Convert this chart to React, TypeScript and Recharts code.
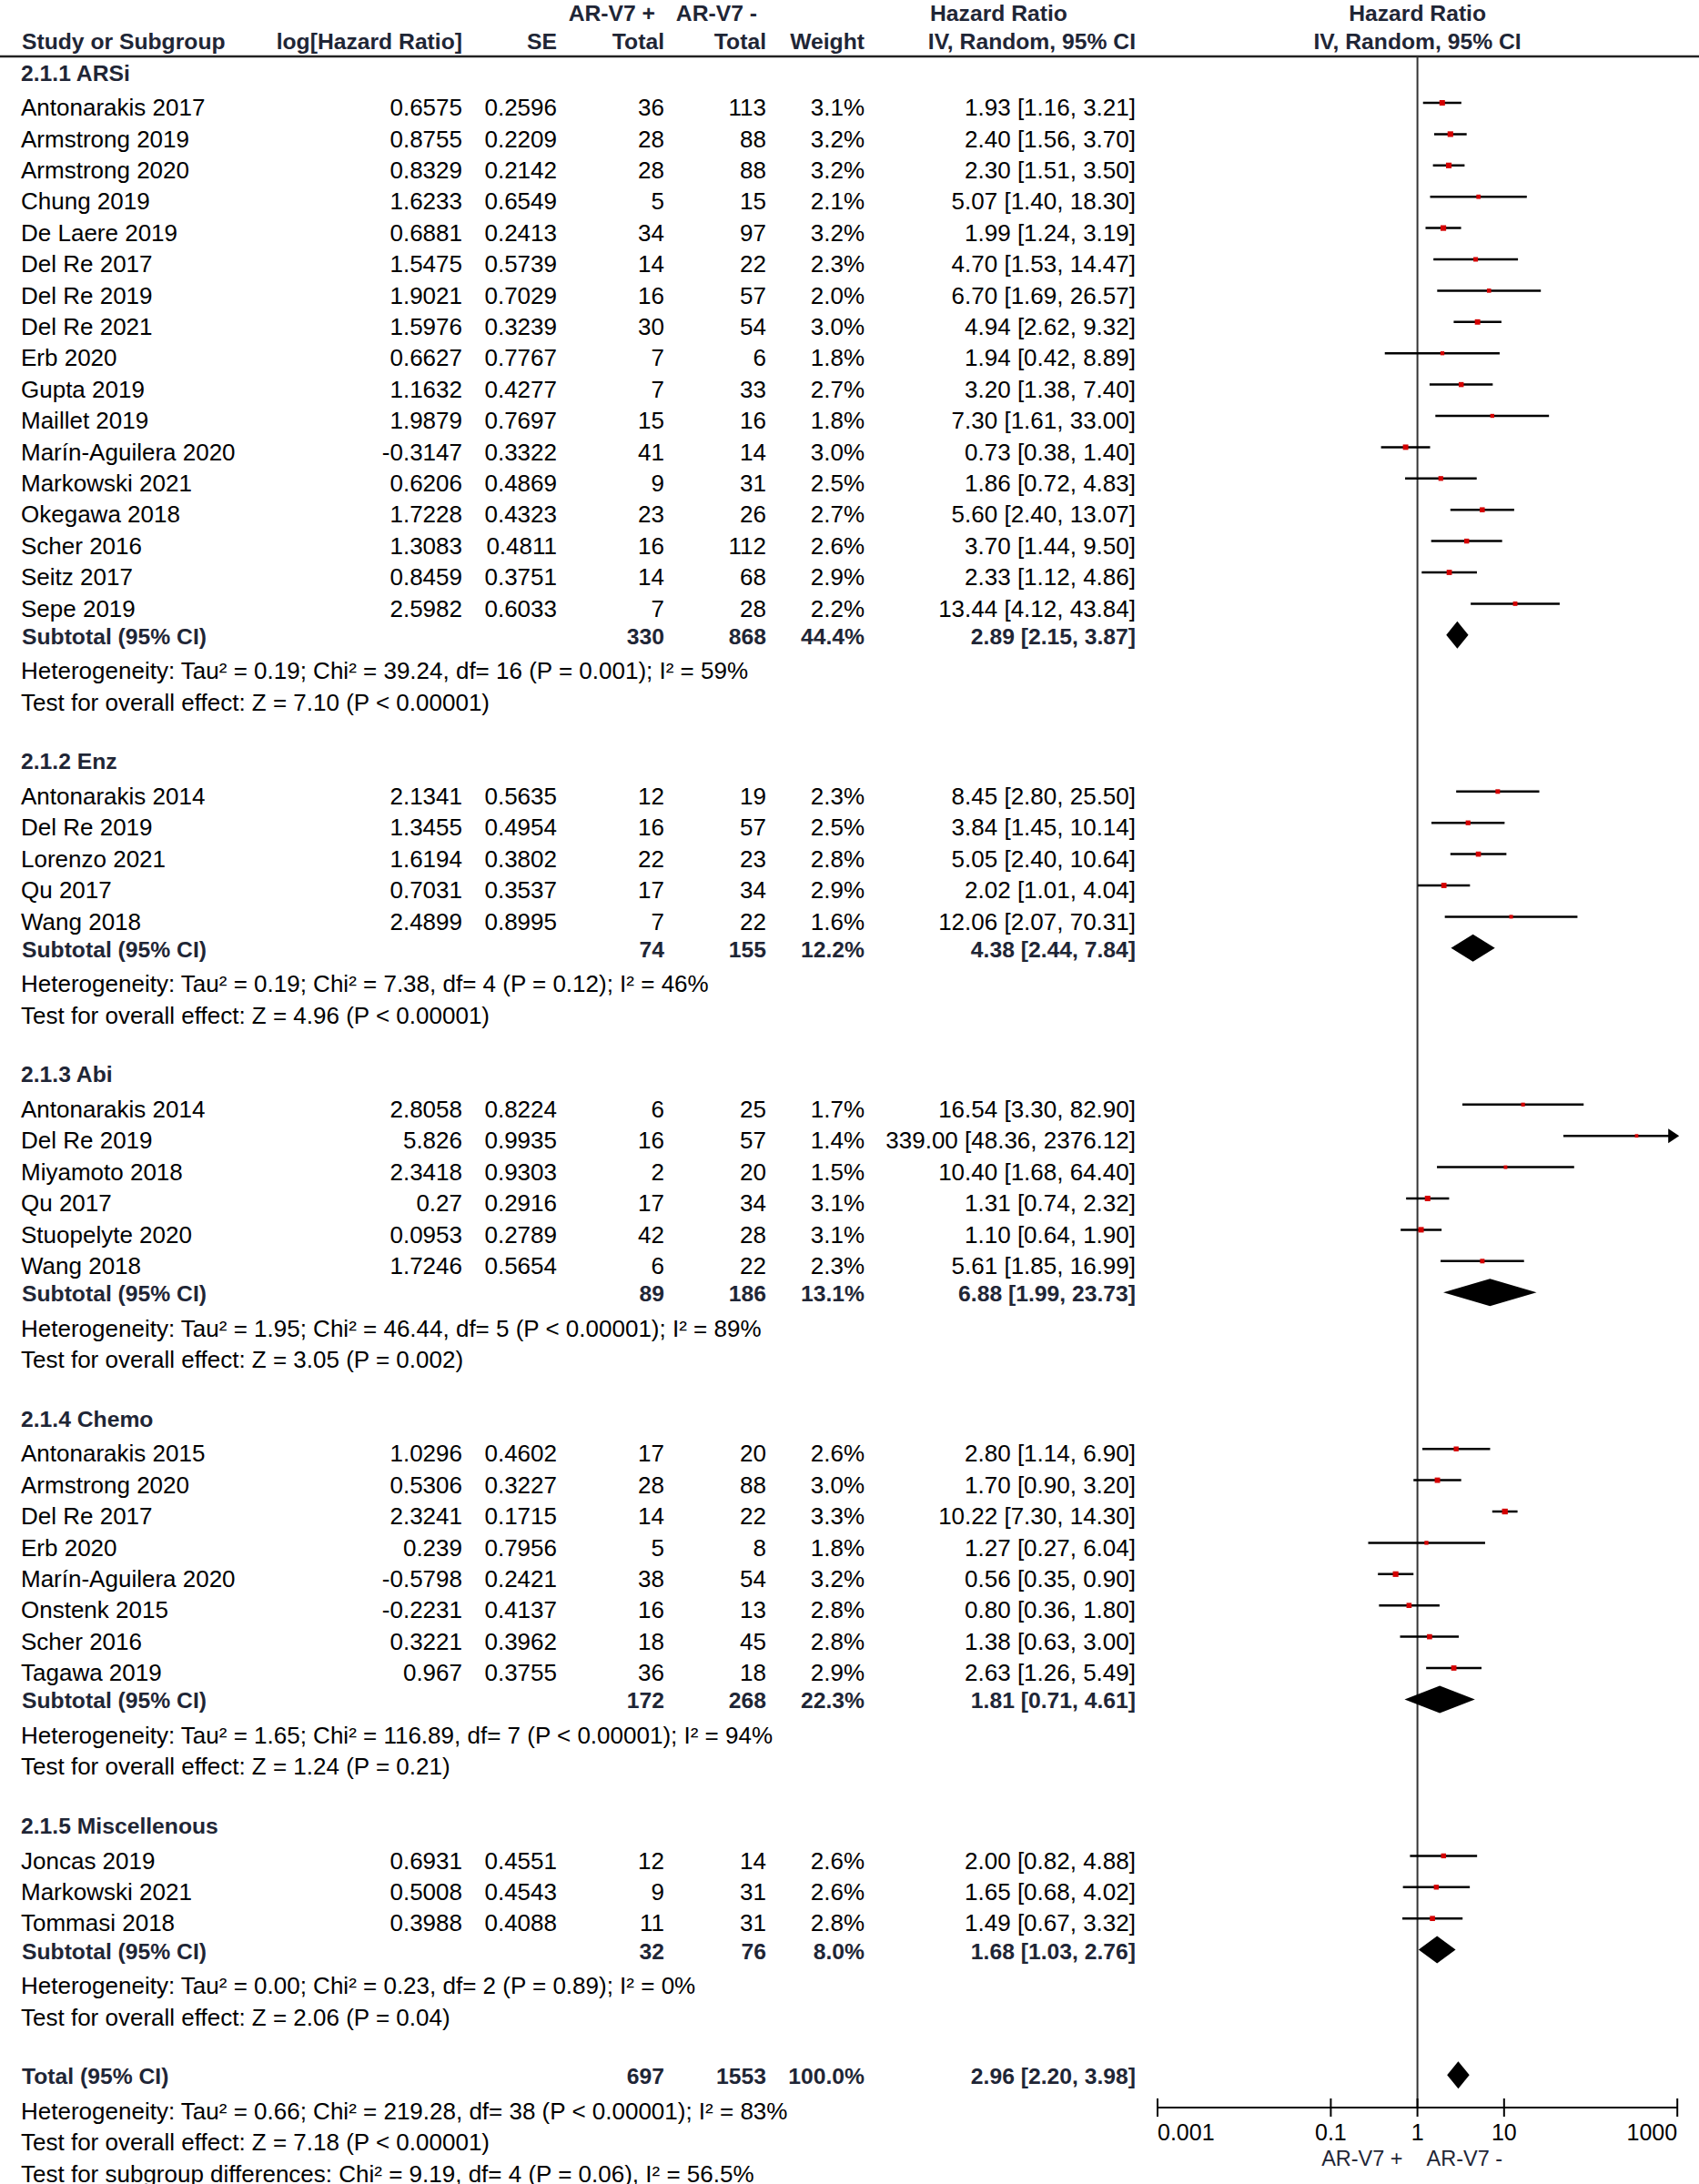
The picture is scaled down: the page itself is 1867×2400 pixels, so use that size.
import { ComposedChart, XAxis, YAxis, Scatter, ReferenceLine } from "recharts";

// ---- data ----
const groupTitles = ["2.1.1 ARSi", "2.1.2 Enz", "2.1.3 Abi", "2.1.4 Chemo", "2.1.5 Miscellenous"];
const groupSizes = [17, 5, 6, 8, 3];

const studyNames = [
  "Antonarakis 2017", "Armstrong 2019", "Armstrong 2020", "Chung 2019", "De Laere 2019", "Del Re 2017",
  "Del Re 2019", "Del Re 2021", "Erb 2020", "Gupta 2019", "Maillet 2019", "Marín-Aguilera 2020",
  "Markowski 2021", "Okegawa 2018", "Scher 2016", "Seitz 2017", "Sepe 2019",
  "Antonarakis 2014", "Del Re 2019", "Lorenzo 2021", "Qu 2017", "Wang 2018",
  "Antonarakis 2014", "Del Re 2019", "Miyamoto 2018", "Qu 2017", "Stuopelyte 2020", "Wang 2018",
  "Antonarakis 2015", "Armstrong 2020", "Del Re 2017", "Erb 2020", "Marín-Aguilera 2020", "Onstenk 2015",
  "Scher 2016", "Tagawa 2019",
  "Joncas 2019", "Markowski 2021", "Tommasi 2018",
];
const logHazardRatio = [
  "0.6575", "0.8755", "0.8329", "1.6233", "0.6881", "1.5475", "1.9021", "1.5976", "0.6627", "1.1632", "1.9879",
  "-0.3147", "0.6206", "1.7228", "1.3083", "0.8459", "2.5982",
  "2.1341", "1.3455", "1.6194", "0.7031", "2.4899",
  "2.8058", "5.826", "2.3418", "0.27", "0.0953", "1.7246",
  "1.0296", "0.5306", "2.3241", "0.239", "-0.5798", "-0.2231", "0.3221", "0.967",
  "0.6931", "0.5008", "0.3988",
];
const standardErrors = [
  "0.2596", "0.2209", "0.2142", "0.6549", "0.2413", "0.5739", "0.7029", "0.3239", "0.7767", "0.4277", "0.7697",
  "0.3322", "0.4869", "0.4323", "0.4811", "0.3751", "0.6033",
  "0.5635", "0.4954", "0.3802", "0.3537", "0.8995",
  "0.8224", "0.9935", "0.9303", "0.2916", "0.2789", "0.5654",
  "0.4602", "0.3227", "0.1715", "0.7956", "0.2421", "0.4137", "0.3962", "0.3755",
  "0.4551", "0.4543", "0.4088",
];
const totalPositive = [
  36, 28, 28, 5, 34, 14, 16, 30, 7, 7, 15, 41, 9, 23, 16, 14, 7,
  12, 16, 22, 17, 7,
  6, 16, 2, 17, 42, 6,
  17, 28, 14, 5, 38, 16, 18, 36,
  12, 9, 11,
];
const totalNegative = [
  113, 88, 88, 15, 97, 22, 57, 54, 6, 33, 16, 14, 31, 26, 112, 68, 28,
  19, 57, 23, 34, 22,
  25, 57, 20, 34, 28, 22,
  20, 88, 22, 8, 54, 13, 45, 18,
  14, 31, 31,
];
const weights = [
  3.1, 3.2, 3.2, 2.1, 3.2, 2.3, 2.0, 3.0, 1.8, 2.7, 1.8, 3.0, 2.5, 2.7, 2.6, 2.9, 2.2,
  2.3, 2.5, 2.8, 2.9, 1.6,
  1.7, 1.4, 1.5, 3.1, 3.1, 2.3,
  2.6, 3.0, 3.3, 1.8, 3.2, 2.8, 2.8, 2.9,
  2.6, 2.6, 2.8,
];
const hazardRatios = [
  1.93, 2.40, 2.30, 5.07, 1.99, 4.70, 6.70, 4.94, 1.94, 3.20, 7.30, 0.73, 1.86, 5.60, 3.70, 2.33, 13.44,
  8.45, 3.84, 5.05, 2.02, 12.06,
  16.54, 339.00, 10.40, 1.31, 1.10, 5.61,
  2.80, 1.70, 10.22, 1.27, 0.56, 0.80, 1.38, 2.63,
  2.00, 1.65, 1.49,
];
const ciLower = [
  1.16, 1.56, 1.51, 1.40, 1.24, 1.53, 1.69, 2.62, 0.42, 1.38, 1.61, 0.38, 0.72, 2.40, 1.44, 1.12, 4.12,
  2.80, 1.45, 2.40, 1.01, 2.07,
  3.30, 48.36, 1.68, 0.74, 0.64, 1.85,
  1.14, 0.90, 7.30, 0.27, 0.35, 0.36, 0.63, 1.26,
  0.82, 0.68, 0.67,
];
const ciUpper = [
  3.21, 3.70, 3.50, 18.30, 3.19, 14.47, 26.57, 9.32, 8.89, 7.40, 33.00, 1.40, 4.83, 13.07, 9.50, 4.86, 43.84,
  25.50, 10.14, 10.64, 4.04, 70.31,
  82.90, 2376.12, 64.40, 2.32, 1.90, 16.99,
  6.90, 3.20, 14.30, 6.04, 0.90, 1.80, 3.00, 5.49,
  4.88, 4.02, 3.32,
];

const subtotalPositive = [330, 74, 89, 172, 32];
const subtotalNegative = [868, 155, 186, 268, 76];
const subtotalWeight = [44.4, 12.2, 13.1, 22.3, 8.0];
const subtotalHR = [2.89, 4.38, 6.88, 1.81, 1.68];
const subtotalLower = [2.15, 2.44, 1.99, 0.71, 1.03];
const subtotalUpper = [3.87, 7.84, 23.73, 4.61, 2.76];
const heterogeneityText = [
  "Heterogeneity: Tau² = 0.19; Chi² = 39.24, df= 16 (P = 0.001); I² = 59%",
  "Heterogeneity: Tau² = 0.19; Chi² = 7.38, df= 4 (P = 0.12); I² = 46%",
  "Heterogeneity: Tau² = 1.95; Chi² = 46.44, df= 5 (P < 0.00001); I² = 89%",
  "Heterogeneity: Tau² = 1.65; Chi² = 116.89, df= 7 (P < 0.00001); I² = 94%",
  "Heterogeneity: Tau² = 0.00; Chi² = 0.23, df= 2 (P = 0.89); I² = 0%",
];
const overallEffectText = [
  "Test for overall effect: Z = 7.10 (P < 0.00001)",
  "Test for overall effect: Z = 4.96 (P < 0.00001)",
  "Test for overall effect: Z = 3.05 (P = 0.002)",
  "Test for overall effect: Z = 1.24 (P = 0.21)",
  "Test for overall effect: Z = 2.06 (P = 0.04)",
];

const totalPositiveAll = 697;
const totalNegativeAll = 1553;
const totalWeightAll = 100.0;
const totalHR = [2.96, 2.20, 3.98];
const totalFooter = [
  "Heterogeneity: Tau² = 0.66; Chi² = 219.28, df= 38 (P < 0.00001); I² = 83%",
  "Test for overall effect: Z = 7.18 (P < 0.00001)",
  "Test for subgroup differences: Chi² = 9.19, df= 4 (P = 0.06), I² = 56.5%",
];

const axisTicks = [0.001, 0.1, 1, 10, 1000];
const axisTickLabels = ["0.001", "0.1", "1", "10", "1000"];
const favoursLabels = ["AR-V7 +", "AR-V7 -"];

// ---- layout ----
const CHART_W = 1867;
const CHART_H = 2400;
const ROW_PX = 34.4;
const ROW0_PX = 113;
const X_ONE_PX = 1557.6;
const DECADE_PX = 95.2;
const AXIS_MIN = axisTicks[0];
const AXIS_MAX = axisTicks[axisTicks.length - 1];
const rowOf = (px: number) => (px - ROW0_PX) / ROW_PX;
const yDomain = [rowOf(0), rowOf(CHART_H)];
const hrDomain = [Math.pow(10, -X_ONE_PX / DECADE_PX), Math.pow(10, (CHART_W - X_ONE_PX) / DECADE_PX)];
const HEADER_ROW = rowOf(62);
const AXIS_ROW = rowOf(2316);
const TOP_HEAD_ROW = rowOf(12.5);
const TICK_HALF = 10 / ROW_PX;
const DIAMOND_HALF = 15 / ROW_PX;

const COL = { name: 23, logHr: 508, se: 612, pos: 730, neg: 842, weight: 950, ci: 1248, hrHead: 1022 };
const FONT = "'Liberation Sans', Arial, Helvetica, sans-serif";
const HEAD_COLOR = "#1f2636";

const fmtCI = (h: number, l: number, u: number) => `${h.toFixed(2)} [${l.toFixed(2)}, ${u.toFixed(2)}]`;

type TextItem = { x: number; y: number; text: string; anchor: "start" | "middle" | "end"; bold?: boolean };

const textItems: TextItem[] = [];
const squarePoints: { x: number; y: number; w: number }[] = [];
const ciRows: { lo: number; hi: number; y: number }[] = [];
const diamondRows: { lo: number; hi: number; y: number }[] = [];

const put = (y: number, x: number, text: string, anchor: TextItem["anchor"], bold = false) =>
  textItems.push({ x, y, text, anchor, bold });

// header rows
put(TOP_HEAD_ROW, COL.pos - 10, "AR-V7 +", "end", true);
put(TOP_HEAD_ROW, COL.neg - 10, "AR-V7 -", "end", true);
put(TOP_HEAD_ROW, COL.hrHead, "Hazard Ratio", "start", true);
put(TOP_HEAD_ROW, X_ONE_PX, "Hazard Ratio", "middle", true);
put(-2, COL.name + 1, "Study or Subgroup", "start", true);
put(-2, COL.logHr, "log[Hazard Ratio]", "end", true);
put(-2, COL.se, "SE", "end", true);
put(-2, COL.pos, "Total", "end", true);
put(-2, COL.neg, "Total", "end", true);
put(-2, COL.weight, "Weight", "end", true);
put(-2, COL.ci, "IV, Random, 95% CI", "end", true);
put(-2, X_ONE_PX, "IV, Random, 95% CI", "middle", true);

let row = -1;
let idx = 0;
groupTitles.forEach((title, g) => {
  put(row, COL.name, title, "start", true);
  row++;
  for (let i = 0; i < groupSizes[g]; i++) {
    put(row, COL.name, studyNames[idx], "start");
    put(row, COL.logHr, logHazardRatio[idx], "end");
    put(row, COL.se, standardErrors[idx], "end");
    put(row, COL.pos, String(totalPositive[idx]), "end");
    put(row, COL.neg, String(totalNegative[idx]), "end");
    put(row, COL.weight, `${weights[idx].toFixed(1)}%`, "end");
    put(row, COL.ci, fmtCI(hazardRatios[idx], ciLower[idx], ciUpper[idx]), "end");
    squarePoints.push({ x: hazardRatios[idx], y: row, w: weights[idx] });
    ciRows.push({ lo: ciLower[idx], hi: ciUpper[idx], y: row });
    idx++;
    row++;
  }
  put(row, COL.name + 1, "Subtotal (95% CI)", "start", true);
  put(row, COL.pos, String(subtotalPositive[g]), "end", true);
  put(row, COL.neg, String(subtotalNegative[g]), "end", true);
  put(row, COL.weight, `${subtotalWeight[g].toFixed(1)}%`, "end", true);
  put(row, COL.ci, fmtCI(subtotalHR[g], subtotalLower[g], subtotalUpper[g]), "end", true);
  diamondRows.push({ lo: subtotalLower[g], hi: subtotalUpper[g], y: row });
  row++;
  put(row, COL.name, heterogeneityText[g], "start");
  row++;
  put(row, COL.name, overallEffectText[g], "start");
  row += 2;
});

put(row, COL.name + 1, "Total (95% CI)", "start", true);
put(row, COL.pos, String(totalPositiveAll), "end", true);
put(row, COL.neg, String(totalNegativeAll), "end", true);
put(row, COL.weight, `${totalWeightAll.toFixed(1)}%`, "end", true);
put(row, COL.ci, fmtCI(totalHR[0], totalHR[1], totalHR[2]), "end", true);
diamondRows.push({ lo: totalHR[1], hi: totalHR[2], y: row });
totalFooter.forEach((t, i) => put(row + 1 + i, COL.name, t, "start"));

const tickPoints = axisTicks.map((t, i) => ({
  x: t,
  y: AXIS_ROW,
  text: axisTickLabels[i],
  anchor: i === 0 ? "start" : i === axisTicks.length - 1 ? "end" : "middle",
}));
const favoursPoints = favoursLabels.map((t, i) => ({ x: 1, y: AXIS_ROW, text: t, side: i === 0 ? -1 : 1 }));

// ---- shapes ----
function TextMark(props: any) {
  const { cx, cy, payload } = props;
  if (cx == null || cy == null) return null;
  const bold = !!payload.bold;
  return (
    <text
      x={cx}
      y={cy + (bold ? 10 : 14.2)}
      textAnchor={payload.anchor}
      fontFamily={FONT}
      fontSize={bold ? 24.7 : 26}
      fontWeight={bold ? "bold" : "normal"}
      fill={bold ? HEAD_COLOR : "#000"}
    >
      {payload.text}
    </text>
  );
}

function TickLabel(props: any) {
  const { cx, cy, payload } = props;
  return (
    <text x={cx} y={cy + 36} textAnchor={payload.anchor} fontFamily={FONT} fontSize={25} fill="#000">
      {payload.text}
    </text>
  );
}

function FavoursLabel(props: any) {
  const { cx, cy, payload } = props;
  return (
    <text
      x={cx + (payload.side < 0 ? -16 : 10)}
      y={cy + 64}
      textAnchor={payload.side < 0 ? "end" : "start"}
      fontFamily={FONT}
      fontSize={23.5}
      fill={HEAD_COLOR}
    >
      {payload.text}
    </text>
  );
}

function SquareMark(props: any) {
  const { cx, cy, payload } = props;
  const s = 2 + 1.3 * payload.w;
  return <rect x={cx - s / 2} y={cy - s / 2} width={s} height={s} fill="#d40000" />;
}

function DiamondShape(props: any) {
  const { x1, y1, x2, y2 } = props;
  const xm = (x1 + x2) / 2;
  const ym = (y1 + y2) / 2;
  return <polygon points={`${x1},${ym} ${xm},${y1} ${x2},${ym} ${xm},${y2}`} fill="#000" />;
}

function ArrowLine(props: any) {
  const { x1, y1, x2, y2 } = props;
  return (
    <g>
      <line x1={x1} y1={y1} x2={x2 - 6} y2={y2} stroke="#000" strokeWidth={2.5} />
      <polygon points={`${x2 + 2},${y2} ${x2 - 10},${y2 - 8} ${x2 - 10},${y2 + 8}`} fill="#000" />
    </g>
  );
}

export default function App() {
  return (
    <div style={{ position: "absolute", left: 0, top: 0, width: CHART_W, height: CHART_H, background: "#fff" }}>
      <ComposedChart width={CHART_W} height={CHART_H} margin={{ top: 0, right: 0, bottom: 0, left: 0 }}>
        <XAxis xAxisId="tbl" dataKey="x" type="number" domain={[0, CHART_W]} allowDataOverflow hide />
        <XAxis xAxisId="hr" dataKey="x" type="number" scale="log" domain={hrDomain} allowDataOverflow hide />
        <YAxis dataKey="y" type="number" domain={yDomain} reversed allowDataOverflow hide />

        <ReferenceLine xAxisId="tbl" y={HEADER_ROW} stroke="#222" strokeWidth={2.5} />
        <ReferenceLine
          xAxisId="hr"
          segment={[{ x: 1, y: HEADER_ROW }, { x: 1, y: AXIS_ROW }]}
          stroke="#333"
          strokeWidth={2}
        />
        <ReferenceLine
          xAxisId="hr"
          segment={[{ x: AXIS_MIN, y: AXIS_ROW }, { x: AXIS_MAX, y: AXIS_ROW }]}
          stroke="#000"
          strokeWidth={2}
        />
        {axisTicks.map((t) => (
          <ReferenceLine
            key={`tick-${t}`}
            xAxisId="hr"
            segment={[{ x: t, y: AXIS_ROW - TICK_HALF }, { x: t, y: AXIS_ROW + TICK_HALF }]}
            stroke="#000"
            strokeWidth={2}
          />
        ))}
        {ciRows.map((r, i) => (
          <ReferenceLine
            key={`ci-${i}`}
            xAxisId="hr"
            segment={[{ x: r.lo, y: r.y }, { x: Math.min(r.hi, AXIS_MAX), y: r.y }]}
            stroke="#000"
            strokeWidth={2.5}
            shape={r.hi > AXIS_MAX ? ArrowLine : undefined}
          />
        ))}
        {diamondRows.map((r, i) => (
          <ReferenceLine
            key={`dia-${i}`}
            xAxisId="hr"
            segment={[{ x: r.lo, y: r.y - DIAMOND_HALF }, { x: r.hi, y: r.y + DIAMOND_HALF }]}
            shape={DiamondShape}
          />
        ))}

        <Scatter xAxisId="hr" data={squarePoints} shape={SquareMark} isAnimationActive={false} />
        <Scatter xAxisId="tbl" data={textItems} shape={TextMark} isAnimationActive={false} />
        <Scatter xAxisId="hr" data={tickPoints} shape={TickLabel} isAnimationActive={false} />
        <Scatter xAxisId="hr" data={favoursPoints} shape={FavoursLabel} isAnimationActive={false} />
      </ComposedChart>
    </div>
  );
}
